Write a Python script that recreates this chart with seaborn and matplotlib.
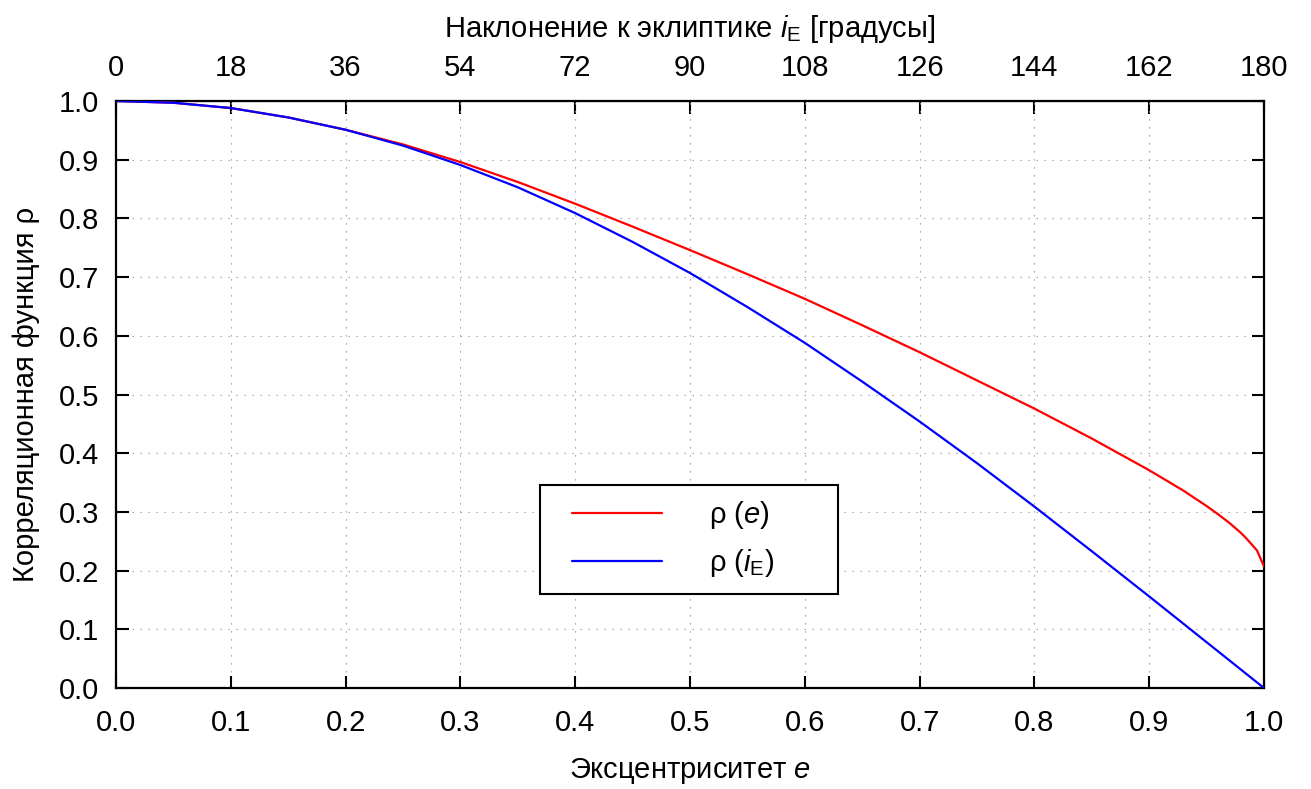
import numpy as np
import pandas as pd
import matplotlib
matplotlib.use("Agg")
import matplotlib.pyplot as plt
from matplotlib.legend_handler import HandlerLine2D
import seaborn as sns

# Eccentricity grid and correlation values for both curves
ecc = [0.00, 0.05, 0.10, 0.15, 0.20, 0.25, 0.30, 0.35, 0.40, 0.45, 0.50,
       0.55, 0.60, 0.65, 0.70, 0.75, 0.80, 0.85, 0.90, 0.93, 0.95, 0.96,
       0.97, 0.98, 0.985, 0.99, 0.994, 1.00]
rho_e = [1.000, 0.997, 0.988, 0.972, 0.951, 0.926, 0.896, 0.862, 0.825,
         0.786, 0.746, 0.705, 0.663, 0.618, 0.572, 0.524, 0.476, 0.425,
         0.371, 0.336, 0.310, 0.296, 0.281, 0.264, 0.254, 0.243, 0.234,
         0.207]

incl_frac = [0.00, 0.05, 0.10, 0.15, 0.20, 0.25, 0.30, 0.35, 0.40, 0.45,
             0.50, 0.55, 0.60, 0.65, 0.70, 0.75, 0.80, 0.85, 0.90, 0.95, 1.00]
rho_i = [1.000, 0.997, 0.988, 0.972, 0.951, 0.924, 0.891, 0.853, 0.809,
         0.760, 0.707, 0.649, 0.588, 0.522, 0.454, 0.383, 0.309, 0.233,
         0.156, 0.078, 0.000]

x_ticks = [0.0, 0.1, 0.2, 0.3, 0.4, 0.5, 0.6, 0.7, 0.8, 0.9, 1.0]
y_ticks = [0.0, 0.1, 0.2, 0.3, 0.4, 0.5, 0.6, 0.7, 0.8, 0.9, 1.0]
deg_ticks = [0, 18, 36, 54, 72, 90, 108, 126, 144, 162, 180]

sns.set_style("ticks")
plt.rcParams["font.family"] = ["Liberation Sans", "DejaVu Sans"]
plt.rcParams["mathtext.fontset"] = "custom"
plt.rcParams["mathtext.rm"] = "Liberation Sans"
plt.rcParams["mathtext.it"] = "Liberation Sans:italic"
plt.rcParams["mathtext.bf"] = "Liberation Sans:bold"
plt.rcParams["text.color"] = "black"
plt.rcParams["axes.labelcolor"] = "black"

df_e = pd.DataFrame({"x": ecc, "rho": rho_e})
df_i = pd.DataFrame({"x": incl_frac, "rho": rho_i})

fig = plt.figure(figsize=(13.11, 7.89), dpi=100)
ax = fig.add_axes([116 / 1311, 1 - 688 / 789, 1148 / 1311, 587 / 789])

sns.lineplot(data=df_e, x="x", y="rho", ax=ax, color="#ff0000", lw=1.6,
             label=r"ρ ($e$)", zorder=3)
sns.lineplot(data=df_i, x="x", y="rho", ax=ax, color="#0000ff", lw=1.6,
             label=r"ρ ($i_\mathrm{E}$)", zorder=4)

ax.set_xlim(0, 1)
ax.set_ylim(0, 1)
ax.set_xticks(x_ticks)
ax.set_yticks(y_ticks)
ax.set_xticklabels([f"{v:.1f}" for v in x_ticks])
ax.set_yticklabels([f"{v:.1f}" for v in y_ticks])

fs = 21
ax.tick_params(axis="both", direction="in", length=9, width=1.5,
               labelsize=fs, right=True, colors="black")
ax.tick_params(axis="x", pad=15)
ax.tick_params(axis="y", pad=12)
ax.grid(True, ls=(0, (1.2, 6)), lw=0.8, color="#9a9a9a")
for sp in ax.spines.values():
    sp.set_linewidth(1.6)
    sp.set_color("black")
    sp.set_visible(True)

ax.set_xlabel(r"Эксцентриситет $e$", fontsize=fs, labelpad=14)
ax.set_ylabel("Корреляционная функция ρ", fontsize=fs, labelpad=14)

top = ax.secondary_xaxis("top", functions=(lambda x: x * 180, lambda d: d / 180))
top.set_xticks(deg_ticks)
top.set_xticklabels([str(d) for d in deg_ticks])
top.tick_params(direction="in", length=9, width=1.5, labelsize=fs, pad=14,
                colors="black")
top.set_xlabel(r"Наклонение к эклиптике $i_\mathrm{E}$ [градусы]",
               fontsize=fs, labelpad=12)

inset_handler = HandlerLine2D(numpoints=2, marker_pad=0.6)
leg = ax.legend(loc="lower left", bbox_to_anchor=(0.369, 0.160, 0.26, 0.181),
                mode="expand", fontsize=fs, frameon=True, fancybox=False,
                framealpha=1, edgecolor="black", handlelength=4.3,
                handletextpad=1.0, borderpad=0.5, labelspacing=0.55,
                borderaxespad=0,
                handler_map={matplotlib.lines.Line2D: inset_handler})
leg.get_frame().set_linewidth(1.5)

fig.savefig("out.png", dpi=100)
